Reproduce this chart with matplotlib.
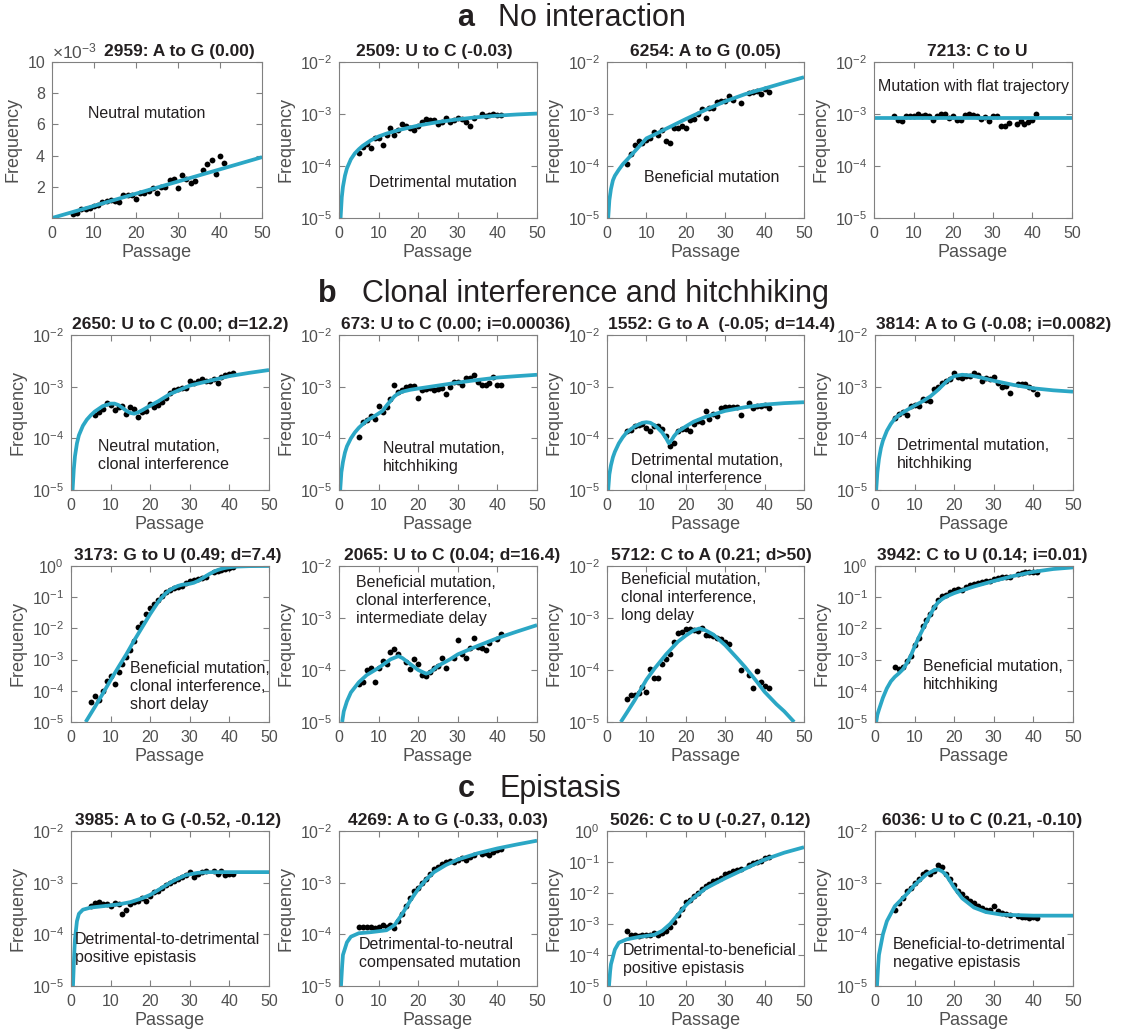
import matplotlib.pyplot as plt
import numpy as np
from matplotlib.ticker import NullLocator, FixedLocator

plt.rcParams['font.family'] = ['Liberation Sans', 'DejaVu Sans']
plt.rcParams['mathtext.default'] = 'regular'

CYAN = '#2ba7c5'
INK = '#231f20'
GREY = '#505050'
EDGE = '#808080'

# ---------------- a: no interaction ----------------
x2959 = [5,6,7,8,9,10,11,12,13,14,15,16,17,18,19,20,21,22,23,24,25,26,27,28,29,30,31,32,33,34,36,37,38,39,40,41]
y2959 = np.array([0.25,0.35,0.6,0.55,0.65,0.8,0.85,1.0,1.1,1.15,1.1,1.0,1.45,1.45,1.5,1.2,1.6,1.6,1.7,1.9,
                  1.6,2.0,2.0,2.45,2.5,1.9,2.75,2.5,2.25,2.35,3.1,3.45,3.7,2.85,4.0,3.5]) * 1e-3
fx2959 = [0, 50]
fy2959 = [0.0, 3.9e-3]

x2509 = [5,6,7,8,9,10,11,12,13,14,15,16,17,18,19,20,21,22,23,24,25,26,27,28,29,30,31,32,33,34,36,37,38,39,40,41]
y2509 = [1.8e-4,2.3e-4,2.7e-4,2.2e-4,3.5e-4,3.5e-4,2.5e-4,4e-4,5.5e-4,4e-4,5e-4,6.3e-4,5.8e-4,5.5e-4,5e-4,5.8e-4,
         7e-4,8e-4,7.5e-4,7.8e-4,6.5e-4,7e-4,8.5e-4,7e-4,7.5e-4,8.5e-4,8e-4,7e-4,6e-4,8.5e-4,1e-3,9e-4,9.5e-4,1e-3,9.5e-4,9.5e-4]
fx2509 = [0.4,0.7,1,1.5,2,3,4,5,6,8,10,12,15,20,25,30,35,40,45,50]
fy2509 = [1e-5,2.5e-5,4e-5,6.5e-5,9e-5,1.35e-4,1.75e-4,2.1e-4,2.45e-4,3.1e-4,3.7e-4,4.2e-4,4.9e-4,6e-4,7e-4,
          7.9e-4,8.7e-4,9.3e-4,9.8e-4,1.02e-3]

x6254 = [5,6,7,8,9,10,11,12,13,14,15,16,17,18,19,20,21,22,23,24,25,26,27,28,29,30,31,32,34,36,37,38,39,40,41]
y6254 = [1.1e-4,1.7e-4,2.5e-4,3e-4,2.8e-4,3.2e-4,3.5e-4,4.5e-4,4e-4,5e-4,3e-4,2.8e-4,5.5e-4,5.3e-4,6e-4,5.3e-4,
         7.5e-4,8e-4,1e-3,1.25e-3,8.5e-4,1.3e-3,1.3e-3,1.7e-3,1.75e-3,1.75e-3,2.2e-3,1.9e-3,1.65e-3,2.5e-3,2.6e-3,
         2.8e-3,2.4e-3,3e-3,2.6e-3]
fx6254 = [0.3,0.6,1,1.5,2,3,4,5,7,10,12,15,20,25,30,35,40,45,50]
fy6254 = [1e-5,2.2e-5,3.6e-5,5.3e-5,6.5e-5,8.5e-5,1.08e-4,1.3e-4,1.9e-4,3.4e-4,4e-4,5.2e-4,8e-4,1.2e-3,1.75e-3,
          2.4e-3,3.1e-3,4e-3,5.1e-3]

x7213 = [5,6,7,8,9,10,11,12,13,14,15,16,17,18,19,20,21,22,23,24,25,26,27,28,29,30,31,32,33,34,36,37,38,39,40,41]
y7213 = [9e-4,7.5e-4,7.3e-4,9e-4,9.3e-4,9.3e-4,1e-3,9.3e-4,9.5e-4,9e-4,7.5e-4,9e-4,9.8e-4,9.8e-4,8.5e-4,9e-4,
         7.8e-4,7.5e-4,9.5e-4,9.8e-4,9.5e-4,9.3e-4,8e-4,8.8e-4,7.2e-4,9.3e-4,9.3e-4,6e-4,5.8e-4,6.8e-4,6.5e-4,
         7.3e-4,6.5e-4,7e-4,7.5e-4,9.8e-4]
fx7213 = [0, 50]
fy7213 = [8.4e-4, 8.4e-4]

# ---------------- b: clonal interference and hitchhiking ----------------
x2650 = list(range(6, 42))
y2650 = [2.8e-4,3.3e-4,3.7e-4,4.8e-4,4.4e-4,3.5e-4,4e-4,4.2e-4,2.9e-4,4e-4,3.7e-4,2.6e-4,3.3e-4,3.4e-4,4.6e-4,
         4.1e-4,4.5e-4,5e-4,6e-4,7.5e-4,8.5e-4,9e-4,9.5e-4,9.5e-4,1.3e-3,1.2e-3,1.3e-3,1.4e-3,1.3e-3,1.3e-3,
         1.4e-3,1.2e-3,1.55e-3,1.7e-3,1.75e-3,1.8e-3]
fx2650 = [0.4,0.7,1,1.5,2,3,4,5,6,8,10,11,12,13,14,15,16,17,18,20,22,25,30,35,40,45,50]
fy2650 = [1e-5,2.5e-5,4.5e-5,8e-5,1.15e-4,1.75e-4,2.3e-4,2.8e-4,3.3e-4,4.2e-4,4.7e-4,4.7e-4,4.4e-4,3.9e-4,
          3.4e-4,3.1e-4,3e-4,3.2e-4,3.5e-4,4.3e-4,5.2e-4,7.2e-4,1.05e-3,1.3e-3,1.6e-3,1.85e-3,2.1e-3]

x673 = list(range(5, 42))
y673 = [1.05e-4,2.1e-4,2.3e-4,2.7e-4,2.4e-4,4.2e-4,3.3e-4,4e-4,5.8e-4,1.1e-3,8e-4,8.5e-4,9.8e-4,1.05e-3,1.05e-3,
        6e-4,8.8e-4,9e-4,9.5e-4,8.8e-4,9e-4,9.3e-4,7.3e-4,1e-3,1.25e-3,1.25e-3,1.1e-3,1.5e-3,1.45e-3,1.7e-3,
        1.25e-3,1.1e-3,1.1e-3,1.2e-3,1.55e-3,1.1e-3,1.1e-3]
fx673 = [0.3,0.6,1,1.5,2,3,4,5,7,9,11,12,13,14,15,16,18,20,25,30,35,40,45,50]
fy673 = [1e-5,2.2e-5,3.5e-5,5.3e-5,7e-5,1e-4,1.3e-4,1.6e-4,2.2e-4,2.7e-4,3.4e-4,4.3e-4,5.3e-4,6.5e-4,7.4e-4,
         8e-4,8.7e-4,9.2e-4,1.05e-3,1.2e-3,1.35e-3,1.5e-3,1.6e-3,1.7e-3]

x1552 = [5,6,7,8,9,10,11,12,13,14,15,16,17,18,19,20,21,22,23,24,25,26,27,28,29,30,31,32,33,34,36,37,38,39,40,41]
y1552 = [1.4e-4,1.45e-4,1.7e-4,1.8e-4,1.9e-4,1.6e-4,1.4e-4,1.7e-4,1.7e-4,1.5e-4,1.1e-4,7e-5,8e-5,1.4e-4,1.5e-4,
         1.5e-4,1.4e-4,1.9e-4,2.2e-4,2.1e-4,3.4e-4,2.4e-4,3e-4,2.7e-4,3.8e-4,4e-4,4e-4,4e-4,4e-4,2.8e-4,4.8e-4,
         3.8e-4,4.3e-4,4.3e-4,4.5e-4,3.8e-4]
fx1552 = [0.3,0.6,1,1.5,2,3,4,5,7,9,10,11,12,13,14,15,15.7,16.5,17,18,20,22,25,30,35,40,45,50]
fy1552 = [1e-5,2e-5,3e-5,4.3e-5,5.5e-5,8e-5,1.05e-4,1.3e-4,1.7e-4,2e-4,2.05e-4,2e-4,1.8e-4,1.55e-4,1.3e-4,
          1e-4,8e-5,9.5e-5,1.1e-4,1.35e-4,1.7e-4,2.1e-4,2.6e-4,3.4e-4,4e-4,4.5e-4,4.8e-4,5e-4]

x3814 = [5,6,7,8,9,10,11,12,13,14,15,16,17,18,19,20,21,22,23,24,25,26,27,28,29,30,31,32,33,34,36,37,38,39,40,41]
y3814 = [2.5e-4,2.9e-4,3.3e-4,2.8e-4,4.3e-4,4.5e-4,4.3e-4,5.8e-4,5.5e-4,5.3e-4,9e-4,1e-3,1.2e-3,1.3e-3,1.4e-3,
         1.85e-3,1.55e-3,1.45e-3,1.6e-3,1.6e-3,1.8e-3,1.65e-3,1.3e-3,1.45e-3,1.4e-3,1.55e-3,1.2e-3,1e-3,1.05e-3,
         7.5e-4,1.15e-3,1.15e-3,1.15e-3,1e-3,9e-4,7.2e-4]
fx3814 = [0.3,0.6,1,1.5,2,3,4,5,6,8,10,12,14,16,18,20,22,24,26,30,35,40,45,50]
fy3814 = [1e-5,2.2e-5,4e-5,6.5e-5,9e-5,1.4e-4,1.9e-4,2.4e-4,2.8e-4,3.5e-4,4.3e-4,5.2e-4,6.5e-4,8.8e-4,1.25e-3,
          1.6e-3,1.7e-3,1.65e-3,1.55e-3,1.3e-3,1.08e-3,9.3e-4,8.5e-4,8e-4]

x3173 = [5,6,7,8,9,10,11,12,13,14,15,16,17,18,19,20,21,22,23,24,25,26,27,28,29,30,31,32,33,34,36,37,38,39,40,41]
y3173 = [4.5e-5,7e-5,5e-5,1e-4,2e-4,3e-4,1.6e-4,4e-4,7e-4,1.2e-3,2e-3,4e-3,1.1e-2,1.5e-2,3e-2,4.5e-2,6e-2,8e-2,
         1.1e-1,1.5e-1,1.7e-1,2e-1,2.1e-1,2.3e-1,2.8e-1,3.2e-1,3.5e-1,3.8e-1,4.2e-1,4.5e-1,6.5e-1,7e-1,7.5e-1,
         8e-1,8.5e-1,9e-1]
fx3173 = [3.7,6,8,10,12,14,16,18,20,22,23,24,25,26,27,28,29,30,31,32,33,34,35,36,37,38,39,40,42,45,50]
fy3173 = [1e-5,3e-5,8e-5,2.2e-4,5.8e-4,1.5e-3,4.2e-3,1.1e-2,2.9e-2,7e-2,1e-1,1.35e-1,1.7e-1,2e-1,2.3e-1,2.5e-1,
          2.6e-1,2.7e-1,2.9e-1,3.3e-1,3.9e-1,4.7e-1,5.6e-1,6.5e-1,7.4e-1,8.1e-1,8.7e-1,9.1e-1,9.6e-1,9.9e-1,1.0]

x2065 = [5,6,7,8,9,10,11,12,13,14,15,17,18,19,20,21,22,23,24,25,26,27,29,30,31,32,33,34,35,36,37,38,40,41]
y2065 = [5.5e-5,6e-5,1e-4,1.1e-4,6e-5,1.1e-4,1.5e-4,1.3e-4,2.2e-4,2.5e-4,2e-4,1.4e-4,1.05e-4,1.6e-4,1.3e-4,8e-5,
         7.5e-5,9e-5,1.1e-4,1.2e-4,1.7e-4,1.1e-4,1.7e-4,3.7e-4,2e-4,1.7e-4,2.7e-4,4.1e-4,2.8e-4,2.6e-4,2.4e-4,
         3.3e-4,4e-4,5e-4]
fx2065 = [0.8,1.2,2,3,5,7,10,13,15,16,18,20,22,23,25,28,30,35,40,45,50]
fy2065 = [1e-5,1.6e-5,2.5e-5,3.7e-5,5.8e-5,8e-5,1.1e-4,1.6e-4,1.85e-4,1.7e-4,1.3e-4,1e-4,8.5e-5,9e-5,1.2e-4,
          1.6e-4,2e-4,2.9e-4,4.1e-4,5.5e-4,7.3e-4]

x5712 = [5,6,7,8,9,10,11,12,13,14,15,16,17,18,19,20,21,22,23,24,25,26,27,28,29,30,31,34,36,37,38,39,40,41]
y5712 = [2.8e-5,3.3e-5,3.3e-5,3.6e-5,4.8e-5,3.8e-5,1.05e-4,7e-5,7e-5,1.3e-4,1.6e-4,2e-4,3.5e-4,5.2e-4,5.5e-4,
         6.2e-4,6.2e-4,6e-4,5.7e-4,6.3e-4,4.7e-4,4.7e-4,4.6e-4,4.2e-4,4e-4,3.5e-4,3.2e-4,1e-4,8e-5,4.5e-5,9.5e-5,
         6e-5,5e-5,4.5e-5]
fx5712 = [3.5,5,7,10,12,15,18,20,22,23.5,25,27,30,33,35,38,40,43,45,47.5]
fy5712 = [1e-5,1.5e-5,2.6e-5,6.5e-5,1.05e-4,2e-4,3.5e-4,4.6e-4,5.8e-4,6.3e-4,5.8e-4,4.8e-4,3e-4,1.7e-4,1.15e-4,
          6e-5,3.8e-5,2.2e-5,1.6e-5,1e-5]

x3942 = [5,6,7,8,9,10,11,12,13,14,15,16,17,18,19,20,21,22,23,24,25,26,27,28,29,30,31,32,33,34,36,37,38,39,40,41]
y3942 = [6e-4,5e-4,6e-4,9e-4,1.3e-3,3e-3,5e-3,1.2e-2,1.8e-2,3e-2,5e-2,8e-2,1.1e-1,1.2e-1,1.5e-1,1.7e-1,1.8e-1,
         1.7e-1,2.1e-1,2.4e-1,2.7e-1,2.8e-1,3.1e-1,3.2e-1,3.4e-1,3.7e-1,4e-1,4.3e-1,4.6e-1,4.6e-1,5.5e-1,5.8e-1,
         6.3e-1,6.6e-1,6.5e-1,6.5e-1]
fx3942 = [0.3,0.6,1,2,3,4,5,6,7,8,9,10,11,12,13,14,15,16,17,18,20,22,25,30,35,40,45,50]
fy3942 = [1e-5,1.7e-5,2.5e-5,6e-5,1.2e-4,2e-4,2.8e-4,3.6e-4,4.8e-4,7.5e-4,1.3e-3,2.6e-3,5e-3,9e-3,1.6e-2,
          2.8e-2,4.8e-2,7e-2,8.8e-2,1.05e-1,1.35e-1,1.65e-1,2.2e-1,3.3e-1,4.8e-1,6.5e-1,8e-1,9e-1]

# ---------------- c: epistasis ----------------
x3985 = [5,6,7,8,9,10,11,12,13,14,15,16,17,18,19,20,21,22,23,24,25,26,27,28,29,30,31,32,33,34,36,37,38,39,40,41]
y3985 = [3.5e-4,4e-4,4.3e-4,3.8e-4,3.8e-4,3.5e-4,4e-4,3.8e-4,2.5e-4,3e-4,3.8e-4,4.2e-4,4.5e-4,5e-4,4.5e-4,5.5e-4,
         6.5e-4,7e-4,8e-4,9e-4,1e-3,1.1e-3,1.2e-3,1.3e-3,1.4e-3,1.6e-3,1.3e-3,1.5e-3,1.6e-3,1.7e-3,1.7e-3,1.5e-3,
         1.7e-3,1.4e-3,1.5e-3,1.5e-3]
fx3985 = [0.5,0.8,1,1.5,2,3,5,8,12,15,18,20,23,26,29,32,35,40,50]
fy3985 = [1e-5,4e-5,8e-5,1.8e-4,2.5e-4,3e-4,3.3e-4,3.5e-4,3.8e-4,4.2e-4,5e-4,5.8e-4,8e-4,1.1e-3,1.4e-3,1.55e-3,
          1.6e-3,1.6e-3,1.6e-3]

x4269 = [5,6,7,8,9,10,11,12,13,14,15,16,17,18,19,20,21,22,23,24,25,26,27,28,29,30,31,32,33,34,36,37,38,39,40,41]
y4269 = [1.4e-4,1.4e-4,1.4e-4,1.4e-4,1.3e-4,1.4e-4,1.5e-4,1.4e-4,1.5e-4,1.3e-4,1.8e-4,2.5e-4,3.5e-4,5e-4,7e-4,
         8e-4,1e-3,1.2e-3,1.5e-3,1.8e-3,2e-3,2.3e-3,2.5e-3,2.6e-3,2.5e-3,2.8e-3,3e-3,2.8e-3,3.2e-3,3.5e-3,3.6e-3,
         3.8e-3,3.5e-3,4e-3,4.2e-3,4.5e-3]
fx4269 = [0.5,0.8,1,2,3,5,8,12,14,16,18,20,22,24,27,30,35,40,45,50]
fy4269 = [1e-5,2.5e-5,4e-5,7e-5,9e-5,1.05e-4,1.1e-4,1.2e-4,1.5e-4,2.5e-4,4.5e-4,7.5e-4,1.15e-3,1.6e-3,2.2e-3,
          2.8e-3,3.7e-3,4.6e-3,5.5e-3,6.5e-3]

x5026 = [5,6,7,8,9,10,11,12,13,14,15,16,17,18,19,20,21,22,23,24,25,26,27,28,29,30,31,32,33,34,36,37,38,39,40,41]
y5026 = [6e-4,4.5e-4,4.5e-4,4e-4,4.5e-4,4.5e-4,4.5e-4,5e-4,4.5e-4,5e-4,6e-4,8e-4,1.2e-3,2e-3,3e-3,5e-3,6e-3,8e-3,
         1e-2,1.3e-2,1.7e-2,2e-2,2.5e-2,2.7e-2,3e-2,4e-2,4.5e-2,5e-2,5.5e-2,6e-2,8e-2,9e-2,1e-1,1.1e-1,1.3e-1,1.5e-1]
fx5026 = [0.5,0.8,1,2,3,5,8,12,14,16,18,20,22,25,30,35,40,45,50]
fy5026 = [1e-5,3e-5,5e-5,1.5e-4,2.5e-4,3.2e-4,3.8e-4,4.5e-4,6e-4,1e-3,2e-3,4e-3,7e-3,1.4e-2,3e-2,6e-2,1.2e-1,
          2e-1,3e-1]

x6036 = [5,6,7,8,9,10,11,12,13,14,15,16,17,18,19,20,21,22,23,24,25,26,27,28,29,30,31,32,33,34,36,37,38,39,40,41]
y6036 = [3e-4,4e-4,5e-4,7e-4,8e-4,1e-3,1.2e-3,1.5e-3,1.6e-3,1.5e-3,1.7e-3,2.2e-3,2e-3,1.5e-3,1.2e-3,9e-4,7e-4,
         6e-4,5e-4,4.5e-4,4e-4,3.5e-4,3.2e-4,3e-4,3e-4,3.5e-4,2.8e-4,2.6e-4,2.5e-4,2.4e-4,2.3e-4,2.2e-4,2.2e-4,
         2.1e-4,2.2e-4,2.1e-4]
fx6036 = [0.5,0.8,1,2,3,5,8,10,13,15,16,17,18,20,22,25,28,32,40,50]
fy6036 = [1e-5,2.5e-5,4e-5,1e-4,1.8e-4,3.5e-4,6e-4,9e-4,1.45e-3,1.75e-3,1.8e-3,1.65e-3,1.4e-3,8e-4,5e-4,3.3e-4,
          2.7e-4,2.4e-4,2.3e-4,2.3e-4]

# panel layout: (pixel box left, top, right, bottom), data, title, title x, note, note pos, ha, ylog top
panels = [
    ((52, 62, 262, 218), x2959, y2959, fx2959, fy2959, '2959: A to G (0.00)', 0.605,
     'Neutral mutation', (0.45, 0.67), 'center', None),
    ((339, 62, 537, 218), x2509, y2509, fx2509, fy2509, '2509: U to C (-0.03)', 0.48,
     'Detrimental mutation', (0.525, 0.23), 'center', 1e-2),
    ((607, 62, 804, 218), x6254, y6254, fx6254, fy6254, '6254: A to G (0.05)', 0.5,
     'Beneficial mutation', (0.53, 0.26), 'center', 1e-2),
    ((874, 62, 1072, 218), x7213, y7213, fx7213, fy7213, '7213: C to U', 0.52,
     'Mutation with flat trajectory', (0.5, 0.84), 'center', 1e-2),

    ((71, 335, 269, 490), x2650, y2650, fx2650, fy2650, '2650: U to C (0.00; d=12.2)', 0.55,
     'Neutral mutation,\nclonal interference', (0.136, 0.22), 'left', 1e-2),
    ((339, 335, 537, 490), x673, y673, fx673, fy673, '673: U to C (0.00; i=0.00036)', 0.59,
     'Neutral mutation,\nhitchhiking', (0.22, 0.21), 'left', 1e-2),
    ((607, 335, 804, 490), x1552, y1552, fx1552, fy1552, '1552: G to A  (-0.05; d=14.4)', 0.58,
     'Detrimental mutation,\nclonal interference', (0.12, 0.135), 'left', 1e-2),
    ((875, 335, 1073, 490), x3814, y3814, fx3814, fy3814, '3814: A to G (-0.08; i=0.0082)', 0.6,
     'Detrimental mutation,\nhitchhiking', (0.11, 0.23), 'left', 1e-2),

    ((71, 566, 269, 722), x3173, y3173, fx3173, fy3173, '3173: G to U (0.49; d=7.4)', 0.54,
     'Beneficial mutation,\nclonal interference,\nshort delay', (0.30, 0.23), 'left', 1.0),
    ((339, 566, 537, 722), x2065, y2065, fx2065, fy2065, '2065: U to C (0.04; d=16.4)', 0.57,
     'Beneficial mutation,\nclonal interference,\nintermediate delay', (0.085, 0.78), 'left', 1e-2),
    ((607, 566, 804, 722), x5712, y5712, fx5712, fy5712, '5712: C to A (0.21; d>50)', 0.53,
     'Beneficial mutation,\nclonal interference,\nlong delay', (0.07, 0.80), 'left', 1e-2),
    ((875, 566, 1073, 722), x3942, y3942, fx3942, fy3942, '3942: C to U (0.14; i=0.01)', 0.54,
     'Beneficial mutation,\nhitchhiking', (0.24, 0.30), 'left', 1.0),

    ((71, 831, 269, 986), x3985, y3985, fx3985, fy3985, '3985: A to G (-0.52, -0.12)', 0.54,
     'Detrimental-to-detrimental\npositive epistasis', (0.02, 0.24), 'left', 1e-2),
    ((339, 831, 537, 986), x4269, y4269, fx4269, fy4269, '4269: A to G (-0.33, 0.03)', 0.55,
     'Detrimental-to-neutral\ncompensated mutation', (0.10, 0.21), 'left', 1e-2),
    ((607, 831, 804, 986), x5026, y5026, fx5026, fy5026, '5026: C to U (-0.27, 0.12)', 0.525,
     'Detrimental-to-beneficial\npositive epistasis', (0.08, 0.17), 'left', 1.0),
    ((875, 831, 1073, 986), x6036, y6036, fx6036, fy6036, '6036: U to C (0.21, -0.10)', 0.54,
     'Beneficial-to-detrimental\nnegative epistasis', (0.09, 0.21), 'left', 1e-2),
]

W, H = 1122, 1035
fig = plt.figure(figsize=(W / 100, H / 100), dpi=100)

for box, dx, dy, fx, fy, title, tx, note, npos, ha, ytop in panels:
    l, t, r, b = box
    ax = fig.add_axes([l / W, 1 - b / H, (r - l) / W, (b - t) / H])
    ax.plot(dx, dy, 'o', color='black', ms=4.2, mew=0)
    ax.plot(fx, fy, '-', color=CYAN, lw=2.7, solid_capstyle='butt')
    ax.set_xlim(0, 50)
    ax.set_xticks([0, 10, 20, 30, 40, 50])
    if ytop is None:
        ax.set_ylim(0, 0.01)
        ax.set_yticks([0.002, 0.004, 0.006, 0.008, 0.010])
        ax.set_yticklabels(['2', '4', '6', '8', '10'])
        ax.text(0.0, 1.005, r'$\times10^{-3}$', transform=ax.transAxes, ha='left', va='bottom',
                fontsize=12.5, color=GREY)
    else:
        ax.set_yscale('log')
        ax.set_ylim(1e-5, ytop)
        decades = [1e-5, 1e-4, 1e-3, 1e-2, 1e-1, 1.0]
        ax.yaxis.set_major_locator(FixedLocator([d for d in decades if d <= ytop * 1.01]))
        ax.yaxis.set_minor_locator(NullLocator())
    ax.tick_params(direction='in', top=True, right=True, length=4, width=0.8, color=EDGE,
                   labelcolor=GREY, labelsize=11.5)
    ax.tick_params(axis='x', pad=6)
    ax.tick_params(axis='y', pad=5)
    for s in ax.spines.values():
        s.set_color(EDGE)
        s.set_linewidth(0.8)
    ax.set_xlabel('Passage', color=GREY, fontsize=13, labelpad=2)
    ax.set_ylabel('Frequency', color=GREY, fontsize=13, labelpad=4)
    ax.text(tx, 1.02, title, transform=ax.transAxes, ha='center', va='bottom',
            fontsize=12.5, fontweight='bold', color=INK)
    ax.text(npos[0], npos[1], note, transform=ax.transAxes, ha=ha, va='center',
            fontsize=11.5, color=INK, linespacing=1.25)

# section headers
headers = [(457, 498, 18, 'a', 'No interaction'),
           (318, 362, 294, 'b', 'Clonal interference and hitchhiking'),
           (458, 500, 789, 'c', 'Epistasis')]
for xl, xt, yc, letter, text in headers:
    fig.text(xl / W, 1 - yc / H, letter, fontsize=22, fontweight='bold', color=INK, ha='left', va='center')
    fig.text(xt / W, 1 - yc / H, text, fontsize=22, color=INK, ha='left', va='center')

fig.savefig('out.png', dpi=100, facecolor='white')
